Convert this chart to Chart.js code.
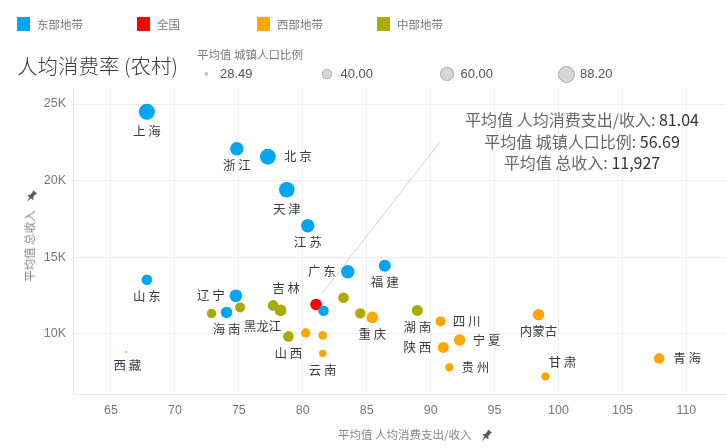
<!DOCTYPE html>
<html>
<head>
<meta charset="utf-8">
<script src="https://cdn.jsdelivr.net/npm/chart.js@4/dist/chart.umd.min.js"></script>
<style>
    html, body { margin: 0; padding: 0; background: #fff; }
    #wrap { position: relative; width: 727px; height: 448px; overflow: hidden; font-family: "Noto Sans CJK SC", "Noto Sans", sans-serif; }
    #chart { position: absolute; left: 0; top: 0; }
    .abs { position: absolute; white-space: nowrap; }
    .swatch { position: absolute; width: 13px; height: 14px; }
    .legText { font-size: 11.5px; color: #777; line-height: 14px; }
    .sizeDot { position: absolute; border-radius: 50%; background: #d6d6d6; border: 1px solid #a8a8a8; box-sizing: border-box; }
    .sizeText { font-family: "Liberation Sans", Arial, sans-serif; font-size: 13px; color: #555; line-height: 16px; }
    #annot { font-size: 16px; line-height: 21.5px; text-align: center; color: #666; }
    #annot b { font-weight: normal; color: #333; }
    .axisTitle { font-size: 11.5px; color: #8a8585; line-height: 14px; }
</style>
</head>
<body>
<div id="wrap">
    <canvas id="chart" width="727" height="448"></canvas>
    <div id="overlay"></div>
</div>
<script>
// --- data ---
const groups = ['东部地带', '全国', '西部地带', '中部地带'];
const sizeLegendValues = [28.49, 40.00, 60.00, 88.20];
const xTicks = [65, 70, 75, 80, 85, 90, 95, 100, 105, 110];
const yTicks = [10000, 15000, 20000, 25000];

// one entry per province ('' = no label shown)
const pointNames = [
    '上 海', '浙 江', '北 京', '天 津', '江 苏', '广 东', '福 建', '山 东', '辽 宁', '海 南', '',
    '',
    '', '', '云 南', '重 庆', '四 川', '陕 西', '宁 夏', '贵 州', '内蒙古', '甘 肃', '青 海', '西 藏',
    '', '', '吉 林', '黑龙江', '山 西', '', '', '湖 南'
];
const pointGroups = [
    0, 0, 0, 0, 0, 0, 0, 0, 0, 0, 0,
    1,
    2, 2, 2, 2, 2, 2, 2, 2, 2, 2, 2, 2,
    3, 3, 3, 3, 3, 3, 3, 3
];
// 平均值 人均消费支出/收入
const consumeRatio = [
    67.81, 74.84, 77.27, 78.75, 80.39, 83.52, 86.41, 67.81, 74.77, 74.04, 81.62,
    81.04,
    80.23, 81.56, 81.56, 85.44, 90.78, 90.99, 92.27, 91.46, 98.44, 98.98, 107.87, 66.20,
    72.87, 75.10, 77.68, 78.26, 78.88, 83.18, 84.50, 88.96
];
// 平均值 总收入
const totalIncome = [
    24494, 22082, 21560, 19408, 17061, 14062, 14453, 13540, 12497, 11408, 11519,
    11927,
    10065, 9909, 8735, 11082, 10822, 9126, 9609, 7822, 11258, 7236, 8409, 8826,
    11343, 11734, 11865, 11539, 9843, 12367, 11343, 11539
];
// 平均值 城镇人口比例
const urbanRatio = [
    88.2, 69.5, 86.5, 84.8, 68.1, 68.5, 58.9, 51.0, 62.7, 55.4, 51.0,
    56.69,
    45.2, 41.8, 37.4, 56.6, 48.0, 53.2, 55.4, 41.0, 56.6, 41.0, 51.0, 28.49,
    45.2, 48.0, 51.0, 56.6, 51.0, 51.0, 50.2, 53.2
];
const avgLines = [
    ['平均值 人均消费支出/收入: ', '81.04'],
    ['平均值 城镇人口比例: ', '56.69'],
    ['平均值 总收入: ', '11,927']
];

// --- styling ---
const groupColors = ['#00a5f5', '#ff0000', '#ffa600', '#aaaa00'];
const labelOffsets = {
    '北 京': [30, 0], '广 东': [-26, 0], '辽 宁': [-25, 0], '四 川': [26, 0],
    '陕 西': [-26, 0], '宁 夏': [27, 0], '贵 州': [26, 0], '青 海': [28, 0],
    '甘 肃': [17, -14], '吉 林': [13, -17], '黑龙江': [-18, 16], '西 藏': [1, 13],
    '上 海': [0, 19], '天 津': [0, 20]
};

const sizeMin = sizeLegendValues[0];
const sizeMax = sizeLegendValues[sizeLegendValues.length - 1];
const sizeToRadius = v => 1 + 7 * Math.sqrt(Math.max(0, (v - sizeMin) / (sizeMax - sizeMin)));

const datasets = groups.map((g, gi) => {
    const pts = [];
    pointGroups.forEach((pg, i) => {
        if (pg === gi) pts.push({ x: consumeRatio[i], y: totalIncome[i], r: sizeToRadius(urbanRatio[i]), name: pointNames[i] });
    });
    return {
        label: g,
        data: pts,
        backgroundColor: groupColors[gi],
        borderWidth: 0,
        hoverBorderWidth: 0
    };
});

// point labels + reference line to the average box
const labelPlugin = {
    id: 'pointLabels',
    afterDatasetsDraw(chart) {
        const ctx = chart.ctx;
        ctx.save();

        // line from 全国 to the text block
        const natEl = chart.getDatasetMeta(1).data[0];
        if (natEl) {
            ctx.strokeStyle = '#d0d0d0';
            ctx.lineWidth = 1;
            ctx.beginPath();
            ctx.moveTo(natEl.x + 6, natEl.y - 11);
            ctx.lineTo(440, 142);
            ctx.stroke();
        }

        ctx.font = '12.5px "Noto Sans CJK SC", sans-serif';
        ctx.fillStyle = '#3c3c3c';
        ctx.textAlign = 'center';
        ctx.textBaseline = 'middle';
        chart.data.datasets.forEach((ds, di) => {
            const meta = chart.getDatasetMeta(di);
            meta.data.forEach((el, i) => {
                const name = ds.data[i].name;
                if (!name) return;
                const off = labelOffsets[name] || [0, 17];
                ctx.fillText(name, el.x + off[0], el.y + off[1]);
            });
        });
        ctx.restore();
    }
};

new Chart(document.getElementById('chart'), {
    type: 'bubble',
    data: { datasets: datasets },
    options: {
        responsive: false,
        animation: false,
        layout: { autoPadding: false, padding: { top: 88, right: 1, left: 0, bottom: 0 } },
        plugins: {
            legend: { display: false },
            tooltip: { enabled: false }
        },
        scales: {
            x: {
                type: 'linear',
                min: 62.03,
                max: 113.1,
                afterBuildTicks: s => { s.ticks = xTicks.map(v => ({ value: v })); },
                afterFit: s => { s.height = 54; s.paddingLeft = 0; s.paddingRight = 0; },
                grid: { color: '#eeeeee', drawTicks: false },
                border: { color: '#e4e4e4' },
                ticks: {
                    color: '#777',
                    padding: 9,
                    font: { family: '"Liberation Sans", Arial, sans-serif', size: 12.5 }
                }
            },
            y: {
                type: 'linear',
                min: 6086,
                max: 26044,
                afterBuildTicks: s => { s.ticks = yTicks.map(v => ({ value: v })); },
                afterFit: s => { s.width = 73; s.paddingTop = 0; s.paddingBottom = 0; },
                grid: { color: '#eeeeee', drawTicks: false },
                border: { color: '#e4e4e4' },
                ticks: {
                    color: '#777',
                    padding: 7,
                    font: { family: '"Liberation Sans", Arial, sans-serif', size: 12.5 },
                    callback: v => (v / 1000) + 'K'
                }
            }
        }
    },
    plugins: [labelPlugin]
});

// --- html overlay: legends, title, averages, axis titles ---
const overlay = document.getElementById('overlay');
const add = (html) => { overlay.insertAdjacentHTML('beforeend', html); };

groups.forEach((g, i) => {
    const x = 17 + i * 120;
    add(`<div class="swatch" style="left:${x}px;top:17px;background:${groupColors[i]}"></div>`);
    add(`<div class="abs legText" style="left:${x + 20}px;top:17px">${g}</div>`);
});

add(`<div class="abs" style="left:17px;top:51px;font-size:20.5px;line-height:28px;color:#3a3a3a;font-weight:300">人均消费率 (农村)</div>`);
add(`<div class="abs legText" style="left:197px;top:47px;color:#7a7a7a">平均值 城镇人口比例</div>`);

const sizeX = [206.5, 327, 447, 566.5];
sizeLegendValues.forEach((v, i) => {
    const r = Math.max(1.6, sizeToRadius(v) + 0.5);
    add(`<div class="sizeDot" style="left:${sizeX[i] - r}px;top:${74 - r}px;width:${2 * r}px;height:${2 * r}px"></div>`);
    add(`<div class="abs sizeText" style="left:${sizeX[i] + 13.5}px;top:66px">${v.toFixed(2)}</div>`);
});

add(`<div id="annot" class="abs" style="left:432px;top:109px;width:300px">` +
    avgLines.map(l => `${l[0]}<b>${l[1]}</b>`).join('<br>') + `</div>`);

const pin = (rot) => `<svg width="14" height="14" viewBox="0 0 12 12" style="display:inline-block;vertical-align:middle;transform:rotate(${rot}deg)">` +
    `<path d="M3.6 0.5 L8.4 0.5 L7.6 1.8 L7.6 4.8 L9.6 7 L6.7 7 L6 11.8 L5.3 7 L2.4 7 L4.4 4.8 L4.4 1.8 Z" fill="#555a61"/></svg>`;

add(`<div class="abs axisTitle" style="left:338px;top:427px">平均值 人均消费支出/收入 <span style="margin-left:5px">${pin(40)}</span></div>`);
add(`<div class="abs axisTitle" style="left:29.5px;top:236px;transform:translate(-50%,-50%) rotate(-90deg)">平均值 总收入<span style="margin-left:6px">${pin(130)}</span></div>`);
</script>
</body>
</html>
